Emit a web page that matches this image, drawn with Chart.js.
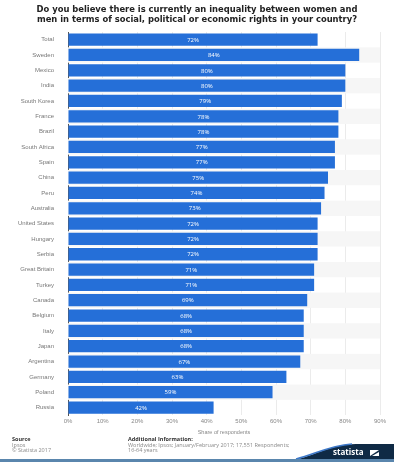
<!DOCTYPE html>
<html>
<head>
<meta charset="utf-8">
<script src="https://cdn.jsdelivr.net/npm/chart.js@4"></script>
<style>
body{margin:0;background:#fff;font-family:"Open Sans",sans-serif;}
#wrap{position:relative;width:394px;height:462px;overflow:hidden;}
#c{position:absolute;left:0;top:0;}
#title{position:absolute;left:0;top:4px;width:394px;text-align:center;font-family:"DejaVu Sans",sans-serif;font-weight:bold;font-size:8.4px;line-height:10px;color:#222;}
.ft{position:absolute;font-size:5.5px;color:#8a8a8a;line-height:5.5px;}
.ft b{color:#333;font-weight:bold;}
</style>
</head>
<body>
<div id="wrap">
<canvas id="c" width="394" height="462"></canvas>
<div id="title"></div>
<div class="ft" style="left:12px;top:437px;"><b>Source</b><br>Ipsos<br>© Statista 2017</div>
<div class="ft" style="left:128px;top:437px;"><b>Additional Information:</b><br>Worldwide; Ipsos; January/February 2017; 17,551 Respondents;<br>16-64 years</div>
</div>
<script>
var countries = ['Total','Sweden','Mexico','India','South Korea','France','Brazil','South Africa','Spain','China','Peru','Australia','United States','Hungary','Serbia','Great Britain','Turkey','Canada','Belgium','Italy','Japan','Argentina','Germany','Poland','Russia'];
var shares = [72,84,80,80,79,78,78,77,77,75,74,73,72,72,72,71,71,69,68,68,68,67,63,59,42];
var titleLines = ['Do you believe there is currently an inequality between women and','men in terms of social, political or economic rights in your country?'];
var axisTitle = 'Share of respondents';

document.getElementById('title').innerHTML = titleLines.join('<br>');

// grey stripes behind every second row
var stripes = {
	id:'stripes',
	beforeDatasetsDraw:function(chart){
		var ctx=chart.ctx, a=chart.chartArea, y=chart.scales.y;
		var h=(a.bottom-a.top)/countries.length;
		ctx.save();
		ctx.fillStyle='#f6f6f6';
		for(var i=1;i<countries.length;i+=2){
			ctx.fillRect(a.left,y.getPixelForValue(i)-h/2,a.right-a.left,h);
		}
		ctx.restore();
	}
};

// value labels centred in the bars
var valueLabels = {
	id:'valueLabels',
	afterDatasetsDraw:function(chart){
		var ctx=chart.ctx, meta=chart.getDatasetMeta(0);
		ctx.save();
		ctx.fillStyle='#fff';
		ctx.font='6px "Open Sans"';
		ctx.textAlign='center';
		ctx.textBaseline='middle';
		meta.data.forEach(function(bar,i){
			ctx.fillText(shares[i]+'%',(bar.base+bar.x)/2,bar.y+0.5);
		});
		ctx.restore();
	}
};

// statista logo bottom right
var logo = {
	id:'logo',
	afterDraw:function(chart){
		var ctx=chart.ctx;
		ctx.save();
		ctx.fillStyle='#0f2a45';
		ctx.beginPath();
		ctx.moveTo(298,459);
		ctx.bezierCurveTo(318,454,330,445,356,444);
		ctx.lineTo(394,444);
		ctx.lineTo(394,459);
		ctx.closePath();
		ctx.fill();
		ctx.strokeStyle='#3d78c8';
		ctx.lineWidth=1.5;
		ctx.beginPath();
		ctx.moveTo(296,459);
		ctx.bezierCurveTo(316,454,328,446,352,444);
		ctx.stroke();
		ctx.fillStyle='#fff';
		ctx.font='bold 8px "Open Sans"';
		ctx.textBaseline='middle';
		ctx.fillText('statista',333,452.5);
		ctx.fillRect(370,450,9,6);
		ctx.fillStyle='#0f2a45';
		ctx.beginPath();
		ctx.moveTo(370,456);ctx.lineTo(379,450);ctx.lineTo(379,452);ctx.lineTo(372,456);ctx.closePath();
		ctx.fill();
		ctx.fillStyle='#5a86ad';
		ctx.fillRect(0,459,394,3);
		ctx.restore();
	}
};

new Chart(document.getElementById('c'),{
	type:'bar',
	data:{
		labels:countries,
		datasets:[{
			data:shares,
			backgroundColor:'#256fd8',
			barPercentage:0.8,
			categoryPercentage:1
		}]
	},
	options:{
		indexAxis:'y',
		responsive:false,
		animation:false,
		layout:{padding:{left:0,right:14,top:32,bottom:26}},
		plugins:{
			legend:{display:false},
			tooltip:{enabled:false},
			title:{display:false}
		},
		scales:{
			x:{
				min:0,max:90,
				ticks:{stepSize:10,color:'#888',font:{size:6},padding:3,callback:function(v){return v+'%';}},
				grid:{color:'#ebebeb',drawTicks:false},
				border:{display:false},
				title:{display:true,text:axisTitle,color:'#888',font:{size:5.5},padding:{top:1,bottom:0}}
			},
			y:{
				ticks:{color:'#777',font:{size:6},padding:6,autoSkip:false},
				grid:{display:false},
				border:{display:true,color:'#555',width:1},
				afterFit:function(s){s.width=68;}
			}
		}
	},
	plugins:[stripes,valueLabels,logo]
});
</script>
</body>
</html>
